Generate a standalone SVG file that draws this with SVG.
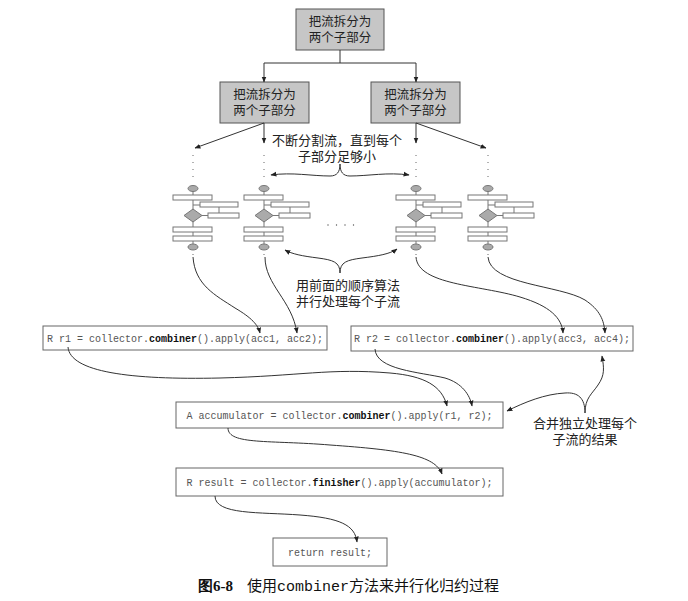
<svg xmlns="http://www.w3.org/2000/svg" xmlns:xlink="http://www.w3.org/1999/xlink" width="688" height="601" viewBox="0 0 688 601">
<style>
.bg{fill:#fff}
.gbox{fill:#c6c6c6;stroke:#555;stroke-width:1}
.cbox{fill:#fff;stroke:#666;stroke-width:1}
.zh{font-family:"Noto Sans CJK SC","Noto Sans CJK JP",sans-serif;font-size:13px;fill:#222;text-anchor:middle}
.zb{font-size:12.5px}
.code{font-family:"Liberation Mono","DejaVu Sans Mono",monospace;font-size:10px;fill:#555;text-anchor:middle;white-space:pre}
.code .b{font-weight:bold;fill:#111}
.ln{fill:none;stroke:#333;stroke-width:1}
.arr{fill:none;stroke:#333;stroke-width:1;marker-end:url(#ah)}
.dot{fill:none;stroke:#666;stroke-width:1;stroke-dasharray:1 6}
.ir{fill:#fff;stroke:#777;stroke-width:1}
.ig{fill:#aaa;stroke:#777;stroke-width:1}
.il{stroke:#777;stroke-width:1;fill:none}
.cap{font-family:"Noto Sans CJK SC",sans-serif;font-size:15px;fill:#111}
</style>
<defs>
<marker id="ah" viewBox="0 0 10 10" refX="9" refY="5" markerWidth="6" markerHeight="6" orient="auto" markerUnits="userSpaceOnUse">
<path d="M0,1 L10,5 L0,9 Z" fill="#222"/>
</marker>
<g id="icon">
<path class="il" d="M0,191 V244 M0,205 H7 M26,207 V213 M9,215.5 H15"/>
<ellipse class="ig" cx="0" cy="188.5" rx="5" ry="3"/>
<rect class="ir" x="-20" y="195" width="39" height="5"/>
<rect class="ir" x="7" y="202" width="38" height="5"/>
<rect class="ir" x="15" y="213" width="31" height="5"/>
<path class="ig" d="M0,209 L9,215.5 L0,222 L-9,215.5 Z"/>
<rect class="ir" x="-20" y="227" width="39" height="5"/>
<rect class="ir" x="-20" y="236" width="39" height="5"/>
<ellipse class="ig" cx="0" cy="247" rx="5" ry="3"/>
</g>
</defs>
<rect class="bg" x="0" y="0" width="688" height="601"/>

<g id="split-top">
<rect class="gbox" x="296" y="9" width="88" height="41"/>
<text class="zh zb" x="340" y="26">把流拆分为<tspan x="340" dy="16">两个子部分</tspan></text>
</g>
<g id="split-left">
<rect class="gbox" x="220" y="82" width="89" height="41"/>
<text class="zh zb" x="264.5" y="99">把流拆分为<tspan x="264.5" dy="16">两个子部分</tspan></text>
</g>
<g id="split-right">
<rect class="gbox" x="371" y="82" width="89" height="41"/>
<text class="zh zb" x="415.5" y="99">把流拆分为<tspan x="415.5" dy="16">两个子部分</tspan></text>
</g>

<g id="stream-1"><use xlink:href="#icon" href="#icon" x="193" y="0"/></g>
<g id="stream-2"><use xlink:href="#icon" href="#icon" x="264" y="0"/></g>
<g id="stream-3"><use xlink:href="#icon" href="#icon" x="416" y="0"/></g>
<g id="stream-4"><use xlink:href="#icon" href="#icon" x="488" y="0"/></g>
<g id="ellipsis">
<circle cx="328" cy="225" r="0.7" fill="#555"/>
<circle cx="336.5" cy="225" r="0.7" fill="#555"/>
<circle cx="345" cy="225" r="0.7" fill="#555"/>
<circle cx="353.5" cy="225" r="0.7" fill="#555"/>
</g>

<g id="note-split">
<text class="zh" x="337" y="145">不断分割流，直到每个<tspan x="337" dy="16">子部分足够小</tspan></text>
</g>
<g id="note-seq">
<text class="zh" x="348" y="290">用前面的顺序算法<tspan x="348" dy="16">并行处理每个子流</tspan></text>
</g>
<g id="note-merge">
<text class="zh" x="585" y="428">合并独立处理每个<tspan x="585" dy="16">子流的结果</tspan></text>
</g>

<g id="code-r1">
<rect class="cbox" x="43" y="326" width="284" height="24"/>
<text class="code" x="185" y="341.5">R r1 = collector.<tspan class="b">combiner</tspan>().apply(acc1, acc2);</text>
</g>
<g id="code-r2">
<rect class="cbox" x="351" y="326" width="282" height="25"/>
<text class="code" x="492" y="342">R r2 = collector.<tspan class="b">combiner</tspan>().apply(acc3, acc4);</text>
</g>
<g id="code-acc">
<rect class="cbox" x="176" y="402" width="327" height="26"/>
<text class="code" x="339.5" y="418.5">A accumulator = collector.<tspan class="b">combiner</tspan>().apply(r1, r2);</text>
</g>
<g id="code-result">
<rect class="cbox" x="176" y="468" width="327" height="28"/>
<text class="code" x="339.5" y="485.5">R result = collector.<tspan class="b">finisher</tspan>().apply(accumulator);</text>
</g>
<g id="code-return">
<rect class="cbox" x="273" y="538" width="114" height="28"/>
<text class="code" x="330" y="555.5">return result;</text>
</g>

<g id="connectors">
<path class="ln" d="M340,50 V63 M264,63 H416"/>
<path class="arr" d="M264,63 V82"/>
<path class="arr" d="M416,63 V82"/>
<path class="arr" d="M264,123 L195,148"/>
<path class="arr" d="M264,123 V143"/>
<path class="arr" d="M416,123 V143"/>
<path class="arr" d="M416,123 L486,148"/>
<path class="dot" d="M193,155 V183 M264,155 V183 M416,155 V183 M488,155 V183"/>
<path class="dot" d="M193,254 V255 M264,254 V255 M416,254 V255 M488,254 V255"/>
<path class="arr" d="M340,164 C340,172 337,176 330,176 C312,176 292,172 271,175"/>
<path class="arr" d="M340,164 C340,172 343,176 350,176 C368,176 388,172 409,175"/>
<path class="arr" d="M340,273 C340,262 333,260 318,258 C302,256 292,254 285,250"/>
<path class="arr" d="M340,273 C340,262 347,260 362,258 C378,256 390,254 397,249"/>
<path class="arr" d="M193,257 C195,285 215,295 235,308 C252,318 258,325 260,333"/>
<path class="arr" d="M265,257 C265,285 292,300 297,333"/>
<path class="arr" d="M416,257 C418,285 480,285 520,297 C550,306 562,318 563,333"/>
<path class="arr" d="M488,257 C490,285 560,285 585,300 C600,310 604,320 605,333"/>
<path class="arr" d="M68,347 C70,372 130,380 220,378 C300,376 330,368 390,373 C425,376 442,386 447,406"/>
<path class="arr" d="M375,349 C376,370 420,372 445,378 C462,383 470,395 472,406"/>
<path class="arr" d="M585,413 C585,398 578,392 565,393 C545,394 525,402 507,411"/>
<path class="arr" d="M585,413 C585,398 592,394 598,385 C605,375 604,368 602,356"/>
<path class="arr" d="M228,428 C228,445 270,440 330,445 C400,450 435,455 442,474"/>
<path class="arr" d="M215,496 C215,515 260,512 300,515 C340,518 355,525 357,542"/>
</g>

<g id="caption">
<text class="cap" x="198" y="591"><tspan font-weight="bold" font-family="Liberation Serif,serif">图6-8</tspan><tspan dx="14">使用</tspan><tspan font-family="Liberation Mono,monospace">combiner</tspan><tspan>方法来并行化归约过程</tspan></text>
</g>
</svg>
